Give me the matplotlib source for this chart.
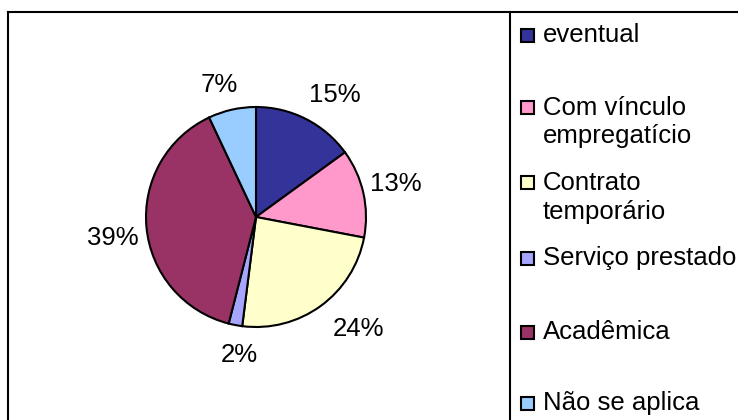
import matplotlib
matplotlib.use('Agg')
import matplotlib.pyplot as plt
from matplotlib.lines import Line2D
from matplotlib.patches import Rectangle

plt.rcParams['font.family'] = ['Liberation Sans', 'DejaVu Sans']

categories = ['eventual', 'Com vínculo\nempregatício', 'Contrato\ntemporário',
              'Serviço prestado', 'Acadêmica', 'Não se aplica']
values = [15, 13, 24, 2, 39, 7]
colors = ['#333399', '#FF99CC', '#FFFFCC', '#A6A6FF', '#993366', '#99CCFF']

# small pixel nudges so the labels sit where the original ones do
label_nudge = [(14, 5), (0, -2), (18, -4), (10, -2), (-1, 8), (-6, 8)]

W, H = 738, 420
fig = plt.figure(figsize=(W / 100, H / 100), dpi=100)

# pie axes: centre at (256, 217) px, radius 110 px
k = 1.6
cx, cy, r = 256, 217, 110
side = 2 * r * k
ax = fig.add_axes([(cx - side / 2) / W, (H - cy - side / 2) / H, side / W, side / H])
wedges, texts = ax.pie(values, colors=colors, startangle=90, counterclock=False,
                       labels=['%d%%' % v for v in values], labeldistance=1.3,
                       wedgeprops=dict(edgecolor='black', linewidth=1.5),
                       textprops=dict(fontsize=18.5, va='center'))
unit = k * 2 / side  # data units per pixel
for t, (dx, dy) in zip(texts, label_nudge):
    x, y = t.get_position()
    t.set_position((x + dx * unit, y - dy * unit))
    t.set_ha('center')
ax.set_xlim(-k, k)
ax.set_ylim(-k, k)
ax.axis('off')

# frame lines
def px(x, y):
    return x / W, 1 - y / H

lw = 1.5
for (x0, y0), (x1, y1) in [((8, 12), (740, 12)), ((8, 12), (8, 425)),
                           ((510, 12), (510, 425))]:
    a, b = px(x0, y0)
    c, d = px(x1, y1)
    fig.add_artist(Line2D([a, c], [b, d], color='black', lw=lw,
                          transform=fig.transFigure))

# legend
marker_y = [35, 108, 183, 258, 332, 403]
for lab, col, my in zip(categories, colors, marker_y):
    a, b = px(521, my + 6.5)
    fig.add_artist(Rectangle((a, b), 13 / W, 13 / H, facecolor=col,
                             edgecolor='black', lw=1.5, transform=fig.transFigure))
    for i, line in enumerate(lab.split('\n')):
        tx, ty = px(543, my + i * 28.5)
        fig.text(tx, ty, line, fontsize=18.5, ha='left', va='center')

fig.savefig('out.png', dpi=100)
